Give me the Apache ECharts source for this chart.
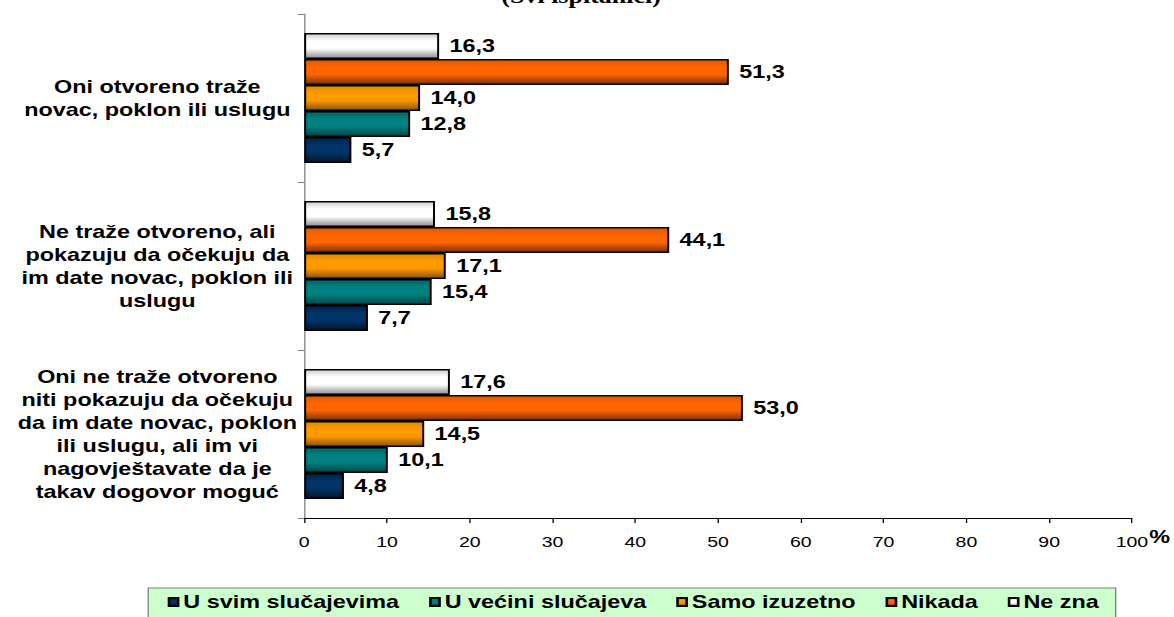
<!DOCTYPE html>
<html><head><meta charset="utf-8">
<script src="https://cdn.jsdelivr.net/npm/echarts@6/dist/echarts.min.js"></script>
<style>
html,body{margin:0;padding:0;background:#fff}
#wrap{width:1174px;height:617px;overflow:hidden;position:relative}
/* the reference is horizontally stretched; reproduce by scaling the chart box */
#c{width:903px;height:617px;transform:scaleX(1.3);transform-origin:0 0}
</style>
</head><body><div id="wrap"><div id="c"></div></div>
<script>
const categories = [
  "Oni otvoreno traže\nnovac, poklon ili uslugu",
  "Ne traže otvoreno, ali\npokazuju da očekuju da\nim date novac, poklon ili\nuslugu",
  "Oni ne traže otvoreno\nniti pokazuju da očekuju\nda im date novac, poklon\nili uslugu, ali im vi\nnagovještavate da je\ntakav dogovor moguć"
];
const seriesNames = ["U svim slučajevima", "U većini slučajeva", "Samo izuzetno", "Nikada", "Ne zna"];
const uSvim = [5.7, 7.7, 4.8];
const uVecini = [12.8, 15.4, 10.1];
const samoIzuzetno = [14.0, 17.1, 14.5];
const nikada = [51.3, 44.1, 53.0];
const neZna = [16.3, 15.8, 17.6];
const xTicks = [0,10,20,30,40,50,60,70,80,90,100];

const values = [uSvim, uVecini, samoIzuzetno, nikada, neZna];
const colors = [
  ["#002147", "#003366", "#00152e"],
  ["#006666", "#008080", "#004646"],
  ["#e08800", "#ff9900", "#8a5200"],
  ["#e05800", "#ff6600", "#7a3000"],
  ["#cfcfcf", "#ffffff", "#8c8c8c"]
];
function grad(c){
  return new echarts.graphic.LinearGradient(0,0,0,1,[
    {offset:0,color:c[0]},{offset:0.3,color:c[1]},{offset:0.6,color:c[1]},{offset:1,color:c[2]}
  ]);
}
const chart = echarts.init(document.getElementById('c'), null, {renderer:'svg'});
const font = "Arial, 'Liberation Sans', sans-serif";
// series listed top-to-bottom within each band (inverse category axis)
const order = [4,3,2,1,0];
chart.setOption({
  animation:false,
  textStyle:{fontFamily:font},
  graphic:[
    {type:'text', x:447, y:6, style:{text:'(Svi ispitanici)', align:'center', verticalAlign:'bottom', font:"bold 20px 'Liberation Serif', 'Times New Roman', serif", fill:'#000'}},
    {type:'text', x:884, y:528, style:{text:'%', font:"bold 18px "+font, fill:'#000'}}
  ],
  legend:{
    data:seriesNames,
    left:114, top:588,
    backgroundColor:'#ccffcc',
    borderColor:'#808080', borderWidth:1,
    padding:[5,13,8,15],
    itemWidth:7, itemHeight:8, itemGap:23,
    icon:'rect',
    textStyle:{fontFamily:font, fontWeight:'bold', fontSize:18, color:'#000', padding:[0,0,0,-1]}
  },
  grid:{left:234, right:32.3, top:14, bottom:99, containLabel:false},
  xAxis:{
    type:'value', min:0, max:100, interval:10,
    axisLine:{show:true, lineStyle:{color:'#000', width:1}},
    axisTick:{show:true, length:5, lineStyle:{color:'#000'}},
    splitLine:{show:false},
    axisLabel:{fontSize:15, color:'#000', margin:16, fontFamily:font,
      formatter:v=>String(v)}
  },
  yAxis:{
    type:'category', data:categories, inverse:true,
    axisLine:{show:true, lineStyle:{color:'#808080'}},
    axisTick:{show:true, length:5, lineStyle:{color:'#808080'}},
    axisLabel:{fontSize:18, fontWeight:'bold', color:'#000', align:'center', margin:113, lineHeight:23, fontFamily:font}
  },
  series: order.map(i=>({
    name:seriesNames[i], type:'bar', data:values[i],
    barGap:'0%', barCategoryGap:'22.6%',
    itemStyle:{color:grad(colors[i]), borderColor:'#000', borderWidth:1.5},
    label:{show:true, position:'right', distance:8, fontSize:18, fontWeight:'bold', color:'#000', fontFamily:font,
      formatter:p=>p.value.toFixed(1).replace('.',',')}
  }))
});
</script></body></html>
